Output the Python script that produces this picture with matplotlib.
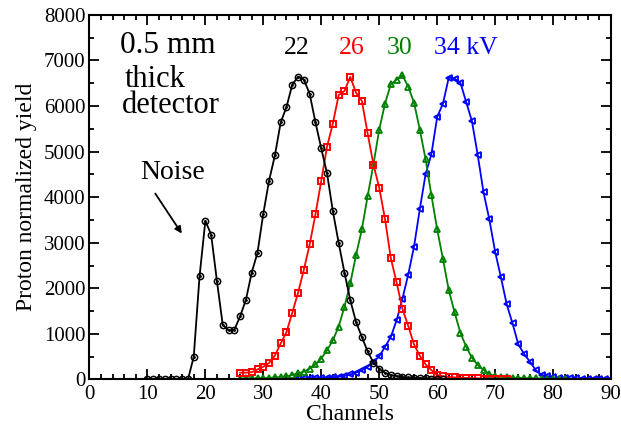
import numpy as np
import matplotlib
matplotlib.use("Agg")
import matplotlib.pyplot as plt
from matplotlib.ticker import MultipleLocator

plt.rcParams['font.family'] = ['Liberation Serif', 'DejaVu Serif']

# 22 kV
ch_22 = list(range(10, 62))
y_22 = [0, 0, 0, 0, 0, 0, 0, 0, 500, 2264, 3480, 3180, 2160, 1200, 1077, 1090,
        1385, 1750, 2345, 2785, 3640, 4365, 4915, 5640, 5978, 6468, 6645, 6580,
        6265, 5640, 5070, 4520, 3693, 2998, 2347, 1745, 1260, 935, 615, 372, 240,
        145, 95, 75, 55, 45, 35, 30, 25, 20, 15, 10]

# 26 kV
ch_26 = list(range(26, 73))
y_26 = [150, 150, 160, 220, 280, 360, 525, 790, 1040, 1465, 1905, 2410, 2965,
        3625, 4360, 5110, 5615, 6240, 6330, 6640, 6290, 6115, 5400, 4716, 4205,
        3520, 2660, 2128, 1550, 1178, 770, 520, 330, 205, 95, 70, 55, 45, 40, 35,
        30, 25, 20, 20, 15, 15, 10]

# 30 kV
ch_30 = list(range(26, 83))
y_30 = [20, 25, 25, 30, 30, 35, 45, 55, 70, 100, 135, 170, 240, 330, 460, 640,
        860, 1160, 1596, 2108, 2729, 3292, 4022, 4716, 5483, 6053, 6476, 6579,
        6673, 6425, 6075, 5483, 4832, 4043, 3292, 2641, 1961, 1473, 1026, 719,
        478, 318, 208, 114, 77, 60, 50, 40, 35, 30, 25, 25, 20, 20, 15, 15, 10]

# 34 kV
ch_34 = list(range(36, 91))
y_34 = [25, 25, 30, 30, 35, 40, 50, 60, 80, 110, 150, 200, 280, 380, 510, 715,
        935, 1300, 1770, 2300, 2911, 3737, 4504, 4942, 5760, 6053, 6623, 6601,
        6514, 6088, 5665, 4920, 4103, 3511, 2801, 2240, 1648, 1231, 771, 559, 391,
        208, 99, 77, 45, 35, 30, 25, 25, 20, 20, 20, 15, 15, 15]

fig = plt.figure(figsize=(6.21, 4.29), dpi=100)
ax = fig.add_axes([0.144, 0.1154, 0.84, 0.85])

ax.plot(ch_34, y_34, color='#0000ff', lw=1.3, marker='<', ms=4.5, mfc='none', mew=1.3)
ax.plot(ch_30, y_30, color='#008000', lw=1.3, marker='^', ms=4.5, mfc='none', mew=1.3)
ax.plot(ch_26, y_26, color='#ff0000', lw=1.3, marker='s', ms=4, mfc='none', mew=1.4)
ax.plot(ch_22, y_22, color='black', lw=1.3, marker='o', ms=4.5, mfc='none', mew=1.1)
ax.plot(ch_22, y_22, ls='none', color='black', marker='.', ms=2)

ax.set_xlim(0, 90)
ax.set_ylim(0, 8000)
ax.xaxis.set_major_locator(MultipleLocator(10))
ax.xaxis.set_minor_locator(MultipleLocator(2))
ax.yaxis.set_major_locator(MultipleLocator(1000))
ax.yaxis.set_minor_locator(MultipleLocator(500))
ax.tick_params(which='both', direction='in', top=True, right=True, labelsize=15, width=1.3)
ax.tick_params(which='major', length=7)
ax.tick_params(which='minor', length=3.5)
ax.tick_params(axis='x', which='major', pad=4)
ax.tick_params(axis='y', which='major', pad=3)
for s in ax.spines.values():
    s.set_linewidth(1.5)

ax.set_xlabel('Channels', fontsize=17, labelpad=0)
ax.set_ylabel('Proton normalized yield', fontsize=17, labelpad=5)

ax.text(5.3, 7330, '0.5 mm', fontsize=22.5, va='center', ha='left')
ax.text(6.1, 6590, 'thick', fontsize=22, va='center', ha='left')
ax.text(5.6, 6010, 'detector', fontsize=22, va='center', ha='left')

ax.text(35.8, 7270, '22', fontsize=18.5, color='black', ha='center', va='center')
ax.text(45.3, 7270, '26', fontsize=18.5, color='#ff0000', ha='center', va='center')
ax.text(53.5, 7270, '30', fontsize=18.5, color='#008000', ha='center', va='center')
ax.text(59.5, 7270, '34 kV', fontsize=18.5, color='#0000ff', ha='left', va='center')

ax.text(14.4, 4548, 'Noise', fontsize=20, ha='center', va='center')
ax.annotate('', xy=(16.2, 3150), xytext=(11.1, 4130),
            arrowprops=dict(arrowstyle='-|>', color='black', lw=1.3, mutation_scale=10))

fig.savefig('out.png', dpi=100)
